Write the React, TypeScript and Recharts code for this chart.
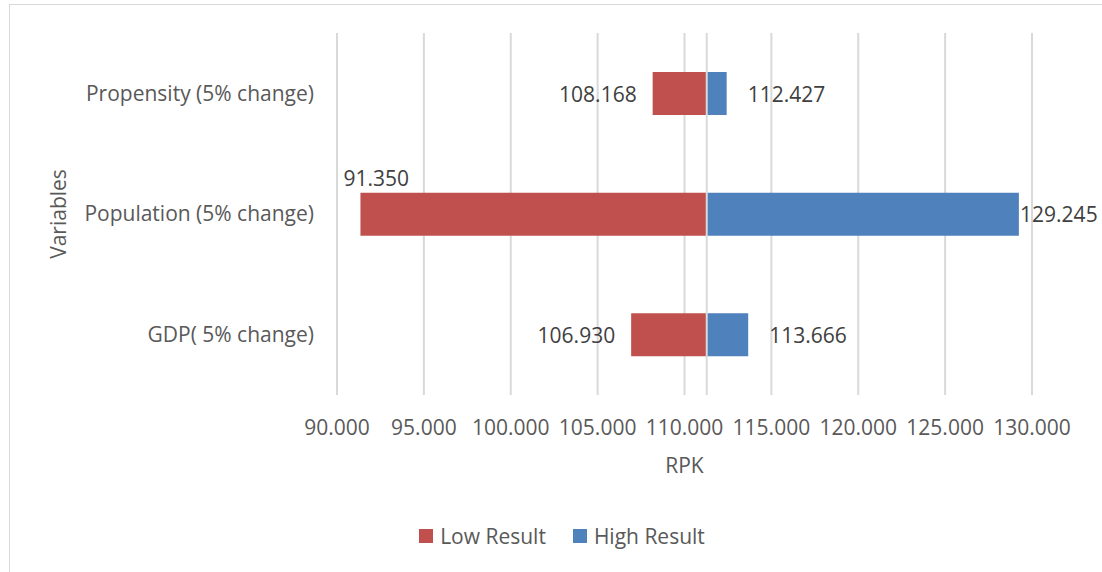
import {
  BarChart,
  Bar,
  XAxis,
  YAxis,
  CartesianGrid,
  Legend,
  ReferenceLine,
  LabelList,
} from "recharts";

// ─── Data ────────────────────────────────────────────────
const categories = [
  "Propensity (5% change)",
  "Population (5% change)",
  "GDP( 5% change)",
];
const lowResult = [108.168, 91.35, 106.93];
const highResult = [112.427, 129.245, 113.666];
const baseValue = 111.28;
const xTicks = [90, 95, 100, 105, 110, 115, 120, 125, 130];
const seriesNames = ["Low Result", "High Result"];

// ─── Style ───────────────────────────────────────────────
const WIDTH = 1102;
const HEIGHT = 572;
const FONT = "'Open Sans', sans-serif";
const FONT_SIZE = 21;
const LOW_COLOR = "#C0504D";
const HIGH_COLOR = "#4F81BD";
const AXIS_TEXT = "#595959";
const LABEL_TEXT = "#404040";
const GRID = "#d9d9d9";
const PLOT_LEFT = 337;

// stacked: invisible spacer up to the low value, then low span, then high span
const chartData = categories.map((name, i) => ({
  name,
  spacer: lowResult[i],
  lowSpan: baseValue - lowResult[i],
  highSpan: highResult[i] - baseValue,
}));

const fmt = (v: number) => v.toFixed(3);
const textWidth = (s: string) => s.length * FONT_SIZE * 0.53;

function getBox(props: any) {
  const vb = props.viewBox ?? {};
  return {
    x: Number(props.x ?? vb.x),
    y: Number(props.y ?? vb.y),
    width: Number(props.width ?? vb.width),
    height: Number(props.height ?? vb.height),
  };
}

function LowLabel(props: any) {
  const { x, y, height } = getBox(props);
  const text = fmt(lowResult[props.index]);
  const w = textWidth(text);
  // not enough room next to the bar: put it above
  if (x - 16 - w < PLOT_LEFT) {
    return (
      <text
        x={x - 17}
        y={y - 15}
        textAnchor="start"
        dominantBaseline="central"
        fill={LABEL_TEXT}
        fontSize={FONT_SIZE}
        fontFamily={FONT}
      >
        {text}
      </text>
    );
  }
  return (
    <text
      x={x - 16}
      y={y + height / 2}
      textAnchor="end"
      dominantBaseline="central"
      fill={LABEL_TEXT}
      fontSize={FONT_SIZE}
      fontFamily={FONT}
    >
      {text}
    </text>
  );
}

function HighLabel(props: any) {
  const { x, y, width, height } = getBox(props);
  const text = fmt(highResult[props.index]);
  const w = textWidth(text);
  const start = Math.min(x + width + 21, WIDTH - 4 - w);
  return (
    <text
      x={start}
      y={y + height / 2}
      textAnchor="start"
      dominantBaseline="central"
      fill={LABEL_TEXT}
      fontSize={FONT_SIZE}
      fontFamily={FONT}
    >
      {text}
    </text>
  );
}

function LegendContent({ payload }: any) {
  const items = (payload ?? [])
    .filter((p: any) => seriesNames.includes(p.value))
    .sort(
      (a: any, b: any) =>
        seriesNames.indexOf(a.value) - seriesNames.indexOf(b.value)
    );
  return (
    <div
      style={{
        display: "flex",
        justifyContent: "center",
        alignItems: "center",
        height: 30,
        paddingLeft: 92,
        fontFamily: FONT,
        fontSize: FONT_SIZE,
        color: AXIS_TEXT,
      }}
    >
      {items.map((item: any, i: number) => (
        <div
          key={item.value}
          style={{
            display: "flex",
            alignItems: "center",
            marginLeft: i === 0 ? 0 : 27,
          }}
        >
          <span
            style={{
              width: 14,
              height: 14,
              background: item.color,
              marginRight: 7,
              display: "inline-block",
            }}
          />
          <span>{item.value}</span>
        </div>
      ))}
    </div>
  );
}

export default function App() {
  return (
    <div
      style={{
        position: "fixed",
        left: 0,
        top: 0,
        width: WIDTH,
        height: HEIGHT,
        overflow: "hidden",
        background: "#fff",
      }}
    >
      {/* chart frame */}
      <div
        style={{
          position: "absolute",
          left: 9,
          top: 4,
          width: WIDTH,
          height: HEIGHT,
          borderLeft: "1px solid #d9d9d9",
          borderTop: "1px solid #d9d9d9",
        }}
      />
      <BarChart
        width={WIDTH}
        height={HEIGHT}
        data={chartData}
        layout="vertical"
        margin={{ top: 33, right: 70, bottom: 21, left: 0 }}
        barSize={43}
        style={{ fontFamily: FONT }}
      >
        <CartesianGrid horizontal={false} stroke={GRID} strokeWidth={2} />
        <XAxis
          type="number"
          domain={[90, 130]}
          ticks={xTicks}
          allowDataOverflow
          tickFormatter={fmt}
          axisLine={false}
          tickLine={false}
          tickMargin={19}
          height={126}
          tick={{ fill: AXIS_TEXT, fontSize: FONT_SIZE, fontFamily: FONT }}
          label={{
            value: "RPK",
            position: "insideBottom",
            offset: 48,
            fill: AXIS_TEXT,
            fontSize: FONT_SIZE,
            fontFamily: FONT,
          }}
        />
        <YAxis
          type="category"
          dataKey="name"
          width={PLOT_LEFT}
          axisLine={false}
          tickLine={false}
          tickMargin={17}
          tick={{ fill: AXIS_TEXT, fontSize: FONT_SIZE, fontFamily: FONT }}
          label={{
            value: "Variables",
            angle: -90,
            position: "insideLeft",
            offset: 59,
            fill: AXIS_TEXT,
            fontSize: FONT_SIZE,
            fontFamily: FONT,
            style: { textAnchor: "middle" },
          }}
        />
        <Legend verticalAlign="bottom" content={<LegendContent />} />
        <Bar
          dataKey="spacer"
          stackId="t"
          fill="transparent"
          legendType="none"
          isAnimationActive={false}
        />
        <Bar
          dataKey="lowSpan"
          name={seriesNames[0]}
          stackId="t"
          fill={LOW_COLOR}
          isAnimationActive={false}
        >
          <LabelList content={<LowLabel />} />
        </Bar>
        <Bar
          dataKey="highSpan"
          name={seriesNames[1]}
          stackId="t"
          fill={HIGH_COLOR}
          isAnimationActive={false}
        >
          <LabelList content={<HighLabel />} />
        </Bar>
        <ReferenceLine x={baseValue} stroke={GRID} strokeWidth={2} />
      </BarChart>
    </div>
  );
}
